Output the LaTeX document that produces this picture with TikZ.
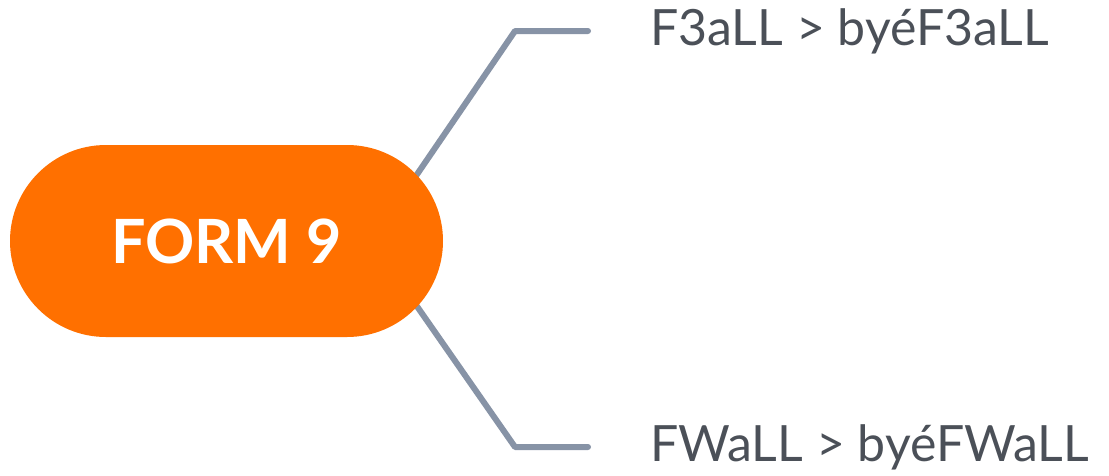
\documentclass[tikz,border=0pt]{standalone}
\usepackage{fontspec}
\setmainfont{Lato}
\usetikzlibrary{positioning, calc, backgrounds}
\definecolor{myorange}{RGB}{255,112,0}
\definecolor{mygray}{RGB}{135,147,166}
\definecolor{mytext}{RGB}{75,80,88}
\tikzset{
  pill/.style={draw=none, fill=myorange, rounded corners=96pt, minimum width=433pt,
    minimum height=192pt, inner sep=0, text=white, font=\fontsize{61}{61}\selectfont\bfseries},
  leaf/.style={draw=none, inner sep=0, anchor=west, text=mytext,
    font=\fontsize{50}{50}\selectfont},
  branch/.style={line width=6pt, color=mygray, line cap=round, line join=round}
}

\begin{document}
\begin{tikzpicture}[x=1pt,y=-1pt]
\useasboundingbox (0,0) rectangle (1109,475);

\node [pill] (form) at (226.5,241) {FORM 9};

\node [leaf] (f3all) at (650,31) {F3aLL > byéF3aLL};
\node [leaf] (fwall) at (650,447) {FWaLL > byéFWaLL};

\coordinate (up1) at (515,31);
\coordinate (up2) at (588,31);
\coordinate (dn1) at (515,447);
\coordinate (dn2) at (588,447);

\begin{scope}[on background layer]
\draw[branch] ([xshift=145pt]form.center) -- (up1) -- (up2);
\draw[branch] ([xshift=145pt]form.center) -- (dn1) -- (dn2);
\end{scope}

\end{tikzpicture}
\end{document}
